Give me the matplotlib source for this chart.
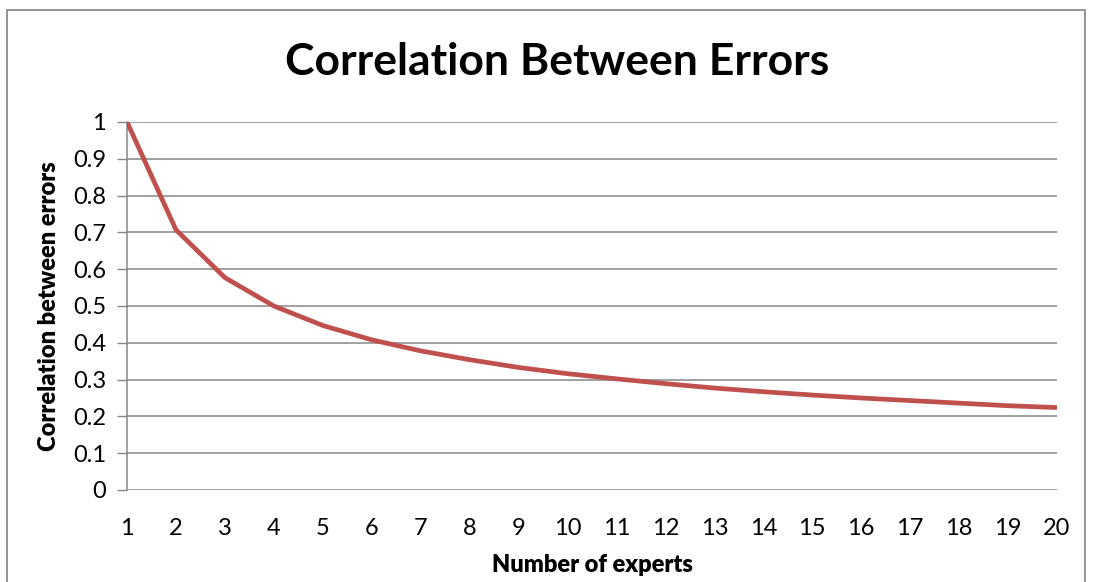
import matplotlib.pyplot as plt
from matplotlib.patches import Rectangle

experts = list(range(1, 21))
correlation = [1.0, 0.707, 0.577, 0.5, 0.447, 0.408, 0.378, 0.354, 0.333, 0.316,
               0.302, 0.289, 0.277, 0.267, 0.258, 0.25, 0.243, 0.236, 0.229, 0.224]
y_ticks = [0, 0.1, 0.2, 0.3, 0.4, 0.5, 0.6, 0.7, 0.8, 0.9, 1]
y_tick_labels = ["0", "0.1", "0.2", "0.3", "0.4", "0.5", "0.6", "0.7", "0.8", "0.9", "1"]

plt.rcParams['font.family'] = ['Lato', 'DejaVu Sans']

fig = plt.figure(figsize=(10.97, 5.82), dpi=100)
ax = fig.add_axes([0.1158, 0.1581, 0.8477, 0.6323])

grid_color = "#868686"
ax.plot(experts, correlation, color="#C0504D", linewidth=3.4, solid_capstyle="butt", zorder=3)

ax.set_xlim(1, 20)
ax.set_ylim(0, 1)
ax.set_xticks(experts)
ax.set_xticklabels([str(e) for e in experts])
ax.set_yticks(y_ticks)
ax.set_yticklabels(y_tick_labels)
ax.tick_params(axis="x", length=0, pad=20, labelsize=17)
ax.tick_params(axis="y", length=7, width=1, color=grid_color, pad=8, labelsize=17)
ax.yaxis.grid(True, color=grid_color, linewidth=1.1)
for side in ["top", "right", "bottom"]:
    ax.spines[side].set_visible(False)
ax.spines["left"].set_color(grid_color)
ax.spines["left"].set_linewidth(1.1)

ax.set_xlabel("Number of experts", fontsize=17, fontweight="heavy", labelpad=11)
ax.set_ylabel("Correlation between errors", fontsize=17, fontweight="heavy", labelpad=9)
fig.text(0.508, 0.893, "Correlation Between Errors", ha="center", va="center",
         fontsize=32, fontweight="bold")

# outer chart border
fig.patches.append(Rectangle((7 / 1097, -0.1), (1085 - 7) / 1097, 1.1 - 10 / 582,
                             transform=fig.transFigure, fill=False,
                             edgecolor="#8c8c8c", linewidth=1.3))

plt.savefig("out.png", dpi=100)
